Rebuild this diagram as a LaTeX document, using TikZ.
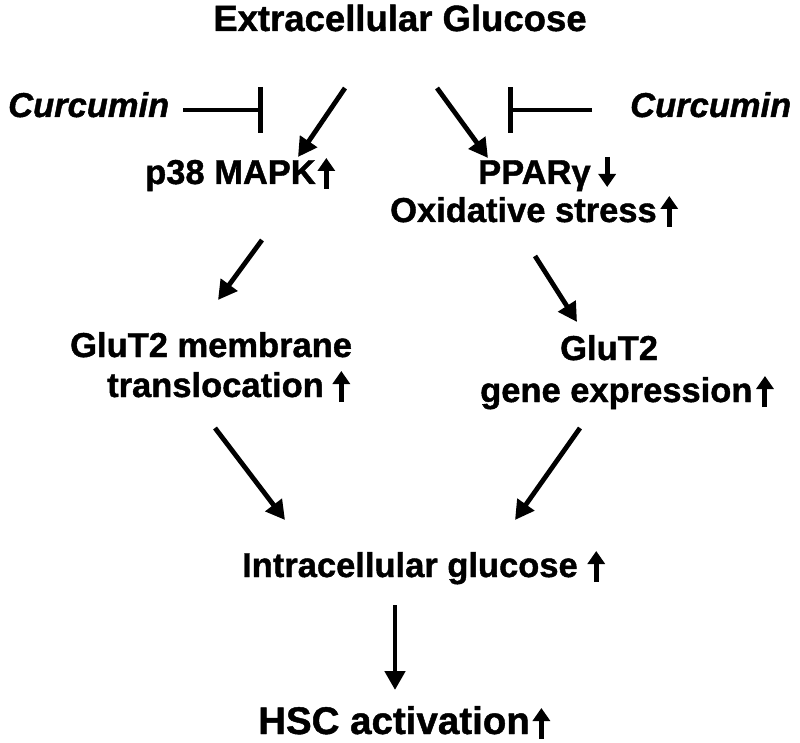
\documentclass[tikz,border=0pt]{standalone}
\usepackage{fontspec}
\setmainfont{Liberation Sans}[BoldFeatures={FakeBold=1.2}, BoldItalicFeatures={FakeBold=1.2}]
\usetikzlibrary{arrows.meta}
\newcommand\uparr{\tikz[baseline=0pt]\draw[line width=5pt,-{Triangle[width=17pt,length=13pt]}] (0pt,-5pt) -- (0pt,26pt);}
\newcommand\downarr{\tikz[baseline=0pt]\draw[line width=5pt,-{Triangle[width=17pt,length=13pt]}] (0pt,27pt) -- (0pt,-3pt);}
\begin{document}
\begin{tikzpicture}[x=1pt,y=-1pt,
  lbl/.style={inner sep=0pt, anchor=base west, font=\bfseries\fontsize{34.5}{40}\selectfont},
  arr/.style={line width=4.8pt,-{Triangle[width=20pt,length=19pt]}},
  inh/.style={line width=4.8pt,-{Bar[width=46pt]}}]
\useasboundingbox (0,0) rectangle (800,743);
\node[lbl, anchor=base, font=\bfseries\fontsize{36.5}{42}\selectfont] (title) at (400,31) {Extracellular Glucose};
\node[lbl, font=\bfseries\itshape\fontsize{34.5}{40}\selectfont] (curL) at (8,117) {Curcumin};
\node[lbl, font=\bfseries\itshape\fontsize{34.5}{40}\selectfont] (curR) at (630,117) {Curcumin};
\node[lbl] (p38) at (145,184) {p38 MAPK\kern2pt\uparr};
\node[lbl] (ppar) at (478,184) {PPARγ\kern8pt\downarr};
\node[lbl] (ox) at (390,222) {Oxidative stress\kern4pt\uparr};
\node[lbl] (mem1) at (70,357) {GluT2 membrane};
\node[lbl] (mem2) at (107,397) {translocation\kern9pt\uparr};
\node[lbl] (gene1) at (560,360) {GluT2};
\node[lbl] (gene2) at (480,402) {gene expression\kern4pt\uparr};
\node[lbl] (intra) at (242,577) {Intracellular glucose\kern10pt\uparr};
\node[lbl, font=\bfseries\fontsize{38.5}{44}\selectfont] (hsc) at (258,734) {HSC activation\kern3pt\uparr};
% connector end points
\coordinate (t1) at (345,88);  \coordinate (p1) at (298,157);
\coordinate (t2) at (437,88);  \coordinate (q1) at (488,158);
\coordinate (i1) at (183,110); \coordinate (i1e) at (263,110);
\coordinate (i2) at (592,110); \coordinate (i2e) at (508,110);
\coordinate (p2) at (262,240); \coordinate (m1) at (218,300);
\coordinate (q2) at (535,256); \coordinate (g1) at (577,322);
\coordinate (m2) at (215,428); \coordinate (n1) at (285,520);
\coordinate (g2) at (580,428); \coordinate (n2) at (515,520);
\coordinate (n3) at (395,605); \coordinate (h1) at (395,690);
\draw[arr] (t1) -- (p1);
\draw[arr] (t2) -- (q1);
\draw[inh] (i1) -- (i1e);
\draw[inh] (i2) -- (i2e);
\draw[arr] (p2) -- (m1);
\draw[arr] (q2) -- (g1);
\draw[arr] (m2) -- (n1);
\draw[arr] (g2) -- (n2);
\draw[arr] (n3) -- (h1);
\end{tikzpicture}
\end{document}
